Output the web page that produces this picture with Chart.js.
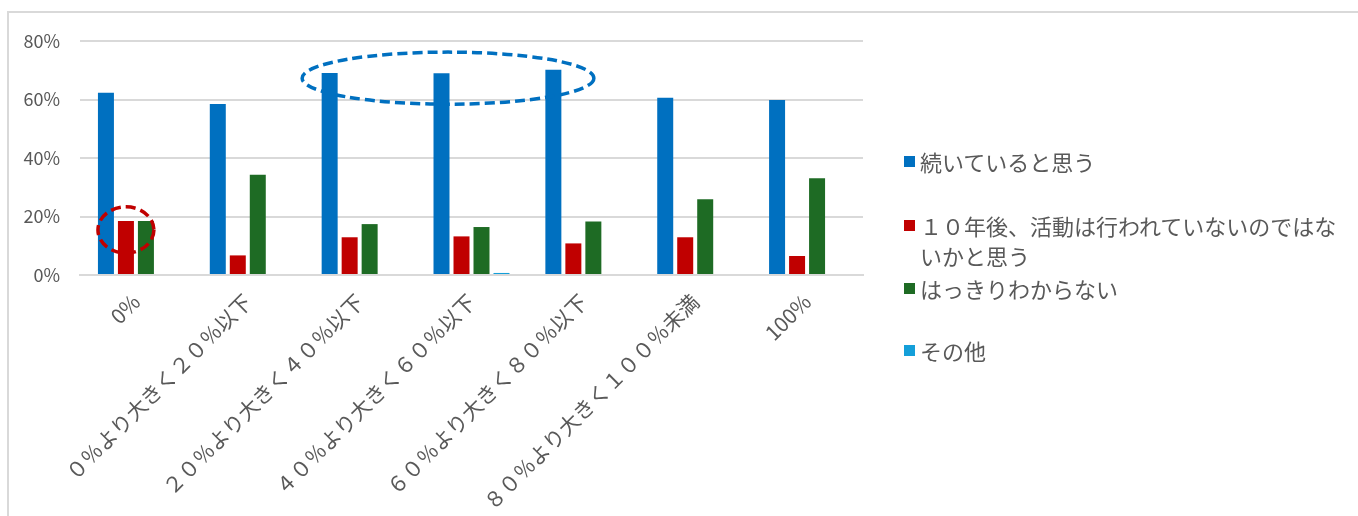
<!DOCTYPE html>
<html>
<head>
<meta charset="utf-8">
<script src="https://cdn.jsdelivr.net/npm/chart.js@4.4.1/dist/chart.umd.min.js"></script>
<style>
  html, body { margin: 0; padding: 0; background: #fff; }
  #wrap { position: relative; width: 1358px; height: 516px; overflow: hidden; }
  #frame { position: absolute; left: 7px; top: 11px; right: -10px; bottom: -10px;
           border-left: 2px solid #d9d9d9; border-top: 2px solid #d9d9d9; pointer-events: none; }
  #c { position: absolute; left: 0; top: 0; }
  .lg { position: absolute; left: 904px; font-family: "Noto Sans CJK JP", "Noto Sans", sans-serif;
        font-size: 22px; color: #595959; line-height: 30px; white-space: nowrap; }
  .lg i { position: absolute; left: 0; top: 10px; width: 11px; height: 11px; }
  .lg span { display: block; margin-left: 16px; }
</style>
</head>
<body>
<div id="wrap">
  <canvas id="c" width="1358" height="516"></canvas>
  <div id="frame"></div>
  <div id="legend"></div>
</div>
<script>
// ---- data ----
const categories = ["0%", "０％より大きく２０％以下", "２０％より大きく４０％以下", "４０％より大きく６０％以下",
                    "６０％より大きく８０％以下", "８０％より大きく１００％未満", "100%"];
const seriesNames = ["続いていると思う", "１０年後、活動は行われていないのではないかと思う", "はっきりわからない", "その他"];
const continueVals = [62.3, 58.5, 69.1, 69.0, 70.2, 60.6, 59.8];
const endVals      = [18.5, 6.7, 12.9, 13.2, 10.8, 12.9, 6.5];
const unsureVals   = [18.5, 34.3, 17.4, 16.4, 18.3, 25.9, 33.1];
const otherVals    = [0, 0, 0, 0.7, 0, 0, 0];
const yTicks = [0, 20, 40, 60, 80];

// ---- styles ----
const colors = ["#0070c0", "#c00000", "#1e6b24", "#149fd9"];
const legendTops = [146, 210, 273, 335];
const legendLines = [["続いていると思う"], ["１０年後、活動は行われていないのではな", "いかと思う"], ["はっきりわからない"], ["その他"]];

// legend (HTML text)
const lg = document.getElementById('legend');
seriesNames.forEach((n, i) => {
  const d = document.createElement('div');
  d.className = 'lg';
  d.style.top = legendTops[i] + 'px';
  d.innerHTML = '<i style="background:' + colors[i] + '"></i><span>' + legendLines[i].join('<br>') + '</span>';
  lg.appendChild(d);
});

// annotation ellipses
const annotations = [
  { type: 'bar', dataset: 1, index: 0, yValue: 15.4, rxFactor: 1.75, ryValue: 7.9, color: "#c00000" },
  { type: 'span', dataset: 0, from: 2, to: 4, shift: 6.5, extra: 34, yValue: 67.3, ryValue: 8.9, color: "#0070c0" }
];
const ellipsePlugin = {
  id: 'ellipses',
  afterDatasetsDraw(chart) {
    const ctx = chart.ctx, y = chart.scales.y;
    annotations.forEach(a => {
      const meta = chart.getDatasetMeta(a.dataset);
      let cx, rx;
      if (a.type === 'bar') {
        const b = meta.data[a.index];
        cx = b.x; rx = b.width * a.rxFactor;
      } else {
        const b1 = meta.data[a.from], b2 = meta.data[a.to];
        cx = (b1.x + b2.x) / 2 + a.shift; rx = (b2.x - b1.x) / 2 + a.extra;
      }
      const cy = y.getPixelForValue(a.yValue);
      const ry = y.getPixelForValue(0) - y.getPixelForValue(a.ryValue);
      ctx.save();
      ctx.strokeStyle = a.color;
      ctx.lineWidth = 3.5;
      ctx.setLineDash([10, 5]);
      ctx.beginPath();
      ctx.ellipse(cx, cy, rx, ry, 0, 0, Math.PI * 2);
      ctx.stroke();
      ctx.restore();
    });
  }
};

const font = "'Noto Sans CJK JP', 'Noto Sans', sans-serif";
new Chart(document.getElementById('c'), {
  type: 'bar',
  data: {
    labels: categories,
    datasets: [continueVals, endVals, unsureVals, otherVals].map((v, i) => ({
      label: seriesNames[i], data: v, backgroundColor: colors[i],
      categoryPercentage: 0.715, barPercentage: 0.8
    }))
  },
  options: {
    responsive: false, animation: false,
    layout: { padding: { left: 0, top: 41, right: 495, bottom: 0 } },
    plugins: { legend: { display: false }, tooltip: { enabled: false } },
    scales: {
      x: {
        grid: { display: false },
        border: { color: '#d9d9d9', width: 2 },
        ticks: { color: '#595959', font: { family: font, size: 21 }, maxRotation: 45, minRotation: 45, padding: 6, autoSkip: false },
        afterFit(s) { s.height = 241; }
      },
      y: {
        min: 0, max: 80,
        afterBuildTicks(s) { s.ticks = yTicks.map(v => ({ value: v })); },
        grid: { color: '#d9d9d9', lineWidth: 2, drawTicks: false },
        border: { display: false },
        ticks: { color: '#595959', font: { family: font, size: 18 }, padding: 20, callback: v => v + '%' },
        afterFit(s) { s.width = 80; }
      }
    }
  },
  plugins: [ellipsePlugin]
});
</script>
</body>
</html>
